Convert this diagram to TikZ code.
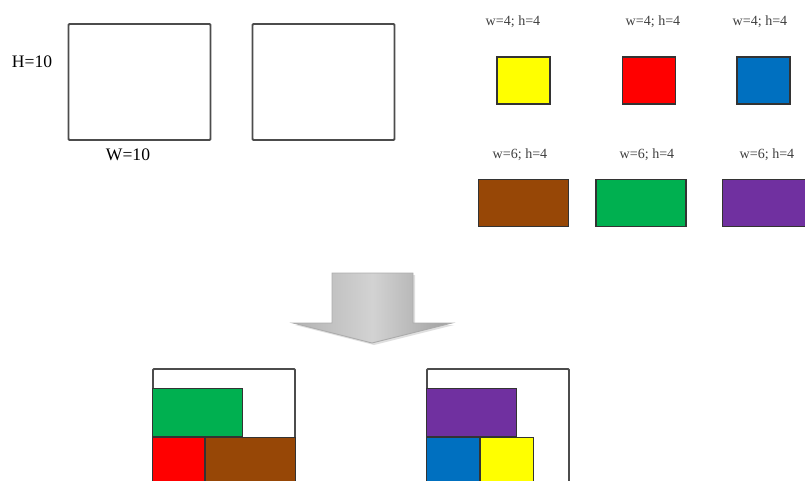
\documentclass[tikz,border=0pt]{standalone}
\usepackage{fontspec}
\setmainfont{Liberation Serif}
\usetikzlibrary{positioning}
\definecolor{pyellow}{HTML}{FFFF00}
\definecolor{pred}{HTML}{FF0000}
\definecolor{pblue}{HTML}{0070C0}
\definecolor{pbrown}{HTML}{974706}
\definecolor{pgreen}{HTML}{00B050}
\definecolor{ppurple}{HTML}{7030A0}
\begin{document}
\begin{tikzpicture}[
        bin/.style={rectangle, draw=black!70, line width=1.1pt, rounded corners=0.6pt, minimum width=2.84cm, minimum height=2.32cm, inner sep=0pt},
        piece/.style={rectangle, draw=black!80, line width=0.7pt, inner sep=0pt, minimum height=0.94cm},
        small/.style={piece, minimum width=1.06cm},
        wide/.style={piece, minimum width=1.80cm},
        tag/.style={font=\fontsize{8}{9}\selectfont, text=black!75},
        dim/.style={font=\fontsize{10}{12}\selectfont}
    ]
        \useasboundingbox (0,0) rectangle (16.1,9.6);
        \clip (0,0) rectangle (16.1,9.6);

        % Empty bins
        \node[bin] (binA) at (2.79,7.96) {};
        \node[bin] (binB) at (6.47,7.96) {};
        \node[dim] (hA) at (0.64,8.36) {H=10};
        \node[dim] (wA) at (2.56,6.50) {W=10};

        % Items
        \node[small, fill=pyellow] (Y) at (10.47,7.99) {};
        \node[small, fill=pred] (R) at (12.98,7.99) {};
        \node[small, fill=pblue] (Bl) at (15.27,7.99) {};
        \node[tag] at (10.26,9.16) {w=4; h=4};
        \node[tag] at (13.06,9.16) {w=4; h=4};
        \node[tag] at (15.20,9.16) {w=4; h=4};

        \node[wide, fill=pbrown] (Br) at (10.47,5.54) {};
        \node[wide, fill=pgreen] (G) at (12.82,5.54) {};
        \node[wide, fill=ppurple] (P) at (15.35,5.54) {};
        \node[tag] at (10.40,6.50) {w=6; h=4};
        \node[tag] at (12.94,6.50) {w=6; h=4};
        \node[tag] at (15.34,6.50) {w=6; h=4};

        % Arrow
        \fill[gray!25] (6.68,4.10) -- (8.30,4.10) -- (8.30,3.10) -- (9.08,3.10) -- (7.48,2.70) -- (5.90,3.10) -- (6.68,3.10) -- cycle;
        \shade[left color=gray!60, right color=gray!75, middle color=gray!35, draw=gray!65, line width=0.5pt]
            (6.64,4.14) -- (8.26,4.14) -- (8.26,3.14) -- (9.04,3.14) -- (7.44,2.74) -- (5.86,3.14) -- (6.64,3.14) -- cycle;

        % Packed bins
        \node[bin, anchor=north west] (binC) at (3.04,2.24) {};
        \node[wide, fill=pgreen, anchor=north west, minimum height=0.96cm] (G1) at (3.04,1.84) {};
        \node[small, fill=pred, anchor=north west, minimum width=1.04cm, minimum height=0.96cm] (R1) at (G1.south west) {};
        \node[wide, fill=pbrown, anchor=north west, minimum height=0.96cm] (Br1) at (R1.north east) {};

        \node[bin, anchor=north west] (binD) at (8.52,2.24) {};
        \node[wide, fill=ppurple, anchor=north west, minimum height=0.96cm] (P1) at (8.52,1.84) {};
        \node[small, fill=pblue, anchor=north west, minimum height=0.96cm] (Bl1) at (P1.south west) {};
        \node[small, fill=pyellow, anchor=north west, minimum height=0.96cm] (Y1) at (Bl1.north east) {};
    \end{tikzpicture}
\end{document}
